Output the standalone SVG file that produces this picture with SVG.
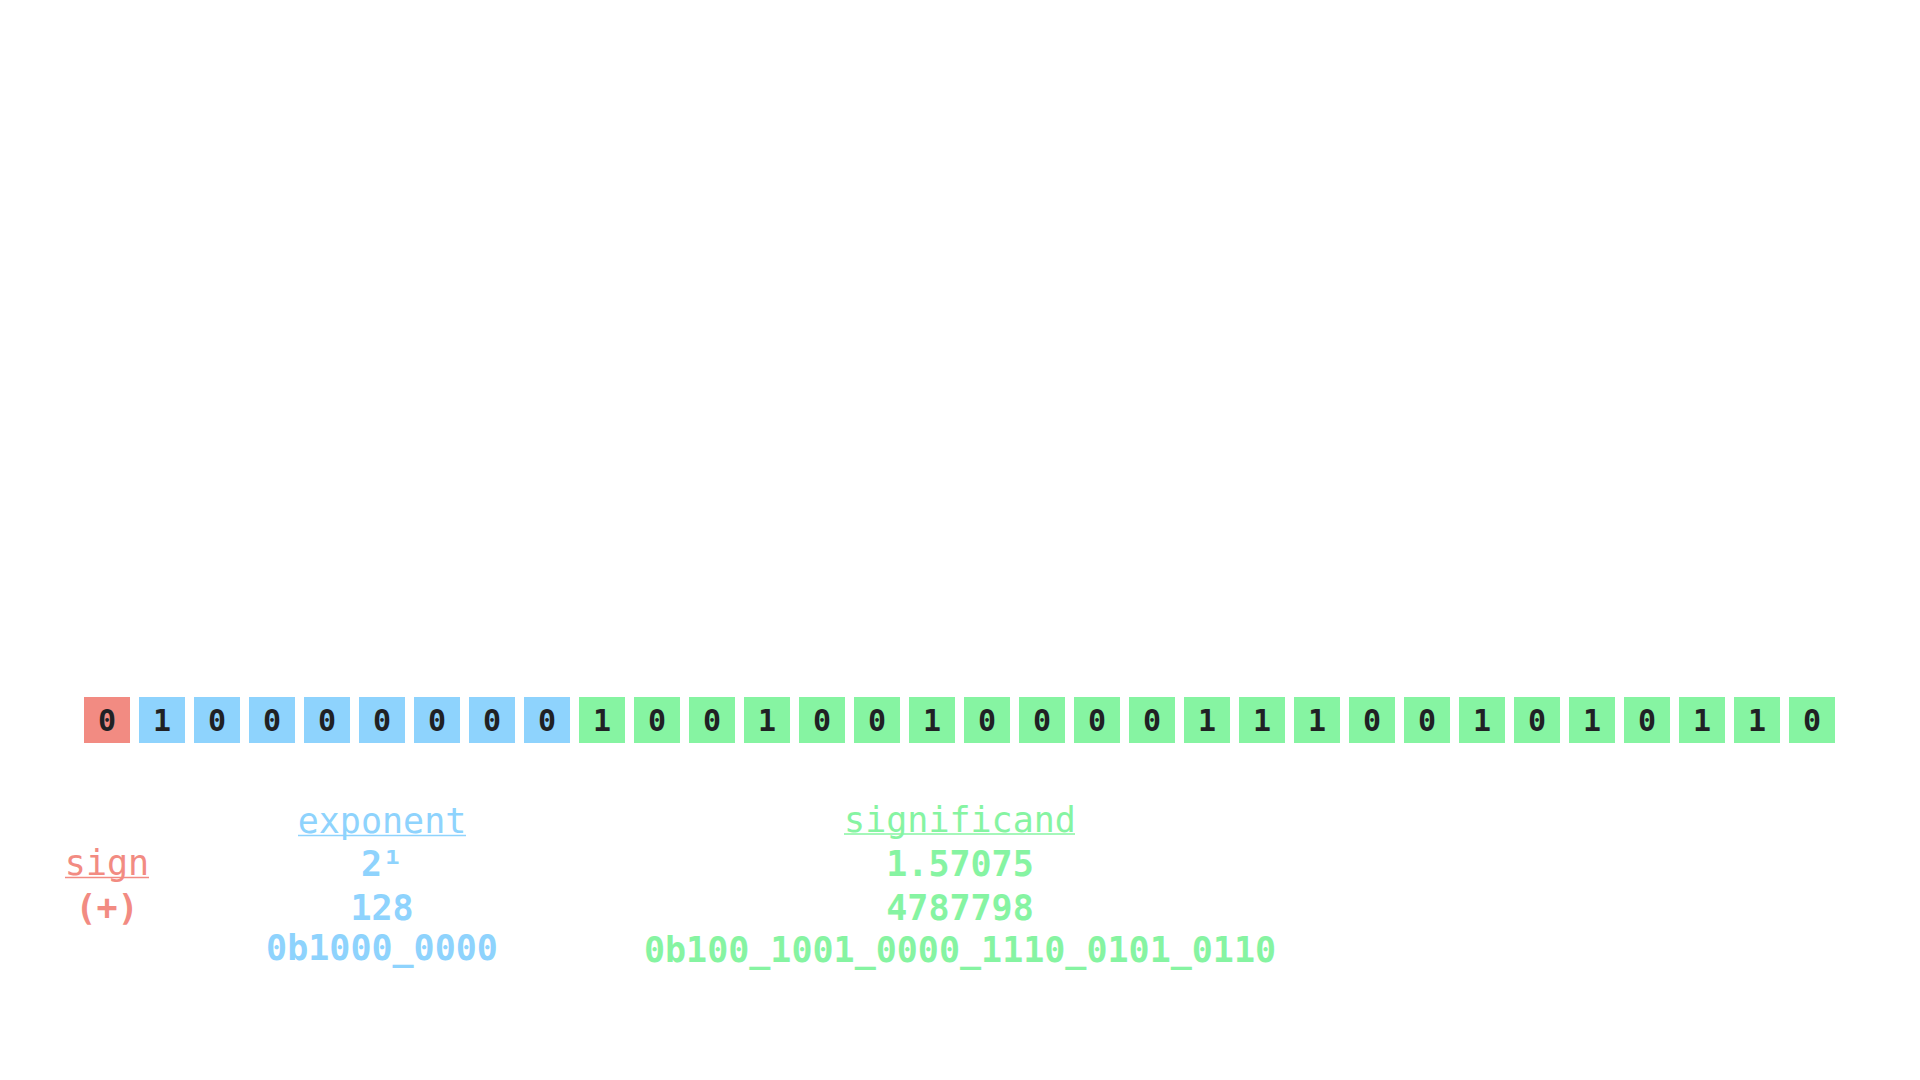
<svg xmlns="http://www.w3.org/2000/svg" width="1920" height="1080" viewBox="0 0 1920 1080">
<style>
.s{fill:#f28b82}.e{fill:#8ed3fd}.m{fill:#86f4a2}
.ls{stroke:#f28b82}.le{stroke:#8ed3fd}.lm{stroke:#86f4a2}
line{stroke-width:1.6}
.bit{font-family:"DejaVu Sans Mono","Liberation Mono",monospace;font-weight:bold;font-size:30px;fill:#202124;text-anchor:middle}
.lbl{font-family:"DejaVu Sans Mono","Liberation Mono",monospace;font-size:35px;text-anchor:middle}
.val{font-family:"DejaVu Sans Mono","Liberation Mono",monospace;font-weight:bold;font-size:35px;text-anchor:middle}
</style>
<rect width="1920" height="1080" fill="#ffffff"/>
<g id="bits">
<g id="b0"><rect class="s" x="84" y="697" width="46" height="46"/><text class="bit" x="107" y="731">0</text></g>
<g id="b1"><rect class="e" x="139" y="697" width="46" height="46"/><text class="bit" x="162" y="731">1</text></g>
<g id="b2"><rect class="e" x="194" y="697" width="46" height="46"/><text class="bit" x="217" y="731">0</text></g>
<g id="b3"><rect class="e" x="249" y="697" width="46" height="46"/><text class="bit" x="272" y="731">0</text></g>
<g id="b4"><rect class="e" x="304" y="697" width="46" height="46"/><text class="bit" x="327" y="731">0</text></g>
<g id="b5"><rect class="e" x="359" y="697" width="46" height="46"/><text class="bit" x="382" y="731">0</text></g>
<g id="b6"><rect class="e" x="414" y="697" width="46" height="46"/><text class="bit" x="437" y="731">0</text></g>
<g id="b7"><rect class="e" x="469" y="697" width="46" height="46"/><text class="bit" x="492" y="731">0</text></g>
<g id="b8"><rect class="e" x="524" y="697" width="46" height="46"/><text class="bit" x="547" y="731">0</text></g>
<g id="b9"><rect class="m" x="579" y="697" width="46" height="46"/><text class="bit" x="602" y="731">1</text></g>
<g id="b10"><rect class="m" x="634" y="697" width="46" height="46"/><text class="bit" x="657" y="731">0</text></g>
<g id="b11"><rect class="m" x="689" y="697" width="46" height="46"/><text class="bit" x="712" y="731">0</text></g>
<g id="b12"><rect class="m" x="744" y="697" width="46" height="46"/><text class="bit" x="767" y="731">1</text></g>
<g id="b13"><rect class="m" x="799" y="697" width="46" height="46"/><text class="bit" x="822" y="731">0</text></g>
<g id="b14"><rect class="m" x="854" y="697" width="46" height="46"/><text class="bit" x="877" y="731">0</text></g>
<g id="b15"><rect class="m" x="909" y="697" width="46" height="46"/><text class="bit" x="932" y="731">1</text></g>
<g id="b16"><rect class="m" x="964" y="697" width="46" height="46"/><text class="bit" x="987" y="731">0</text></g>
<g id="b17"><rect class="m" x="1019" y="697" width="46" height="46"/><text class="bit" x="1042" y="731">0</text></g>
<g id="b18"><rect class="m" x="1074" y="697" width="46" height="46"/><text class="bit" x="1097" y="731">0</text></g>
<g id="b19"><rect class="m" x="1129" y="697" width="46" height="46"/><text class="bit" x="1152" y="731">0</text></g>
<g id="b20"><rect class="m" x="1184" y="697" width="46" height="46"/><text class="bit" x="1207" y="731">1</text></g>
<g id="b21"><rect class="m" x="1239" y="697" width="46" height="46"/><text class="bit" x="1262" y="731">1</text></g>
<g id="b22"><rect class="m" x="1294" y="697" width="46" height="46"/><text class="bit" x="1317" y="731">1</text></g>
<g id="b23"><rect class="m" x="1349" y="697" width="46" height="46"/><text class="bit" x="1372" y="731">0</text></g>
<g id="b24"><rect class="m" x="1404" y="697" width="46" height="46"/><text class="bit" x="1427" y="731">0</text></g>
<g id="b25"><rect class="m" x="1459" y="697" width="46" height="46"/><text class="bit" x="1482" y="731">1</text></g>
<g id="b26"><rect class="m" x="1514" y="697" width="46" height="46"/><text class="bit" x="1537" y="731">0</text></g>
<g id="b27"><rect class="m" x="1569" y="697" width="46" height="46"/><text class="bit" x="1592" y="731">1</text></g>
<g id="b28"><rect class="m" x="1624" y="697" width="46" height="46"/><text class="bit" x="1647" y="731">0</text></g>
<g id="b29"><rect class="m" x="1679" y="697" width="46" height="46"/><text class="bit" x="1702" y="731">1</text></g>
<g id="b30"><rect class="m" x="1734" y="697" width="46" height="46"/><text class="bit" x="1757" y="731">1</text></g>
<g id="b31"><rect class="m" x="1789" y="697" width="46" height="46"/><text class="bit" x="1812" y="731">0</text></g>
</g>
<g id="connectors"></g>
<g id="sign">
<text class="lbl s" x="107" y="875">sign</text>
<line class="ls" x1="65" y1="877.5" x2="149" y2="877.5"/>
<text class="val s" x="107" y="920">(+)</text>
</g>
<g id="exponent">
<text class="lbl e" x="382" y="833">exponent</text>
<line class="le" x1="298" y1="835.5" x2="466" y2="835.5"/>
<text class="val e" x="382" y="876">2¹</text>
<text class="val e" x="382" y="920">128</text>
<text class="val e" x="382" y="960">0b1000_0000</text>
</g>
<g id="significand">
<text class="lbl m" x="960" y="832">significand</text>
<line class="lm" x1="844" y1="834" x2="1075" y2="834"/>
<text class="val m" x="960" y="876">1.57075</text>
<text class="val m" x="960" y="920">4787798</text>
<text class="val m" x="960" y="962">0b100_1001_0000_1110_0101_0110</text>
</g>
</svg>
